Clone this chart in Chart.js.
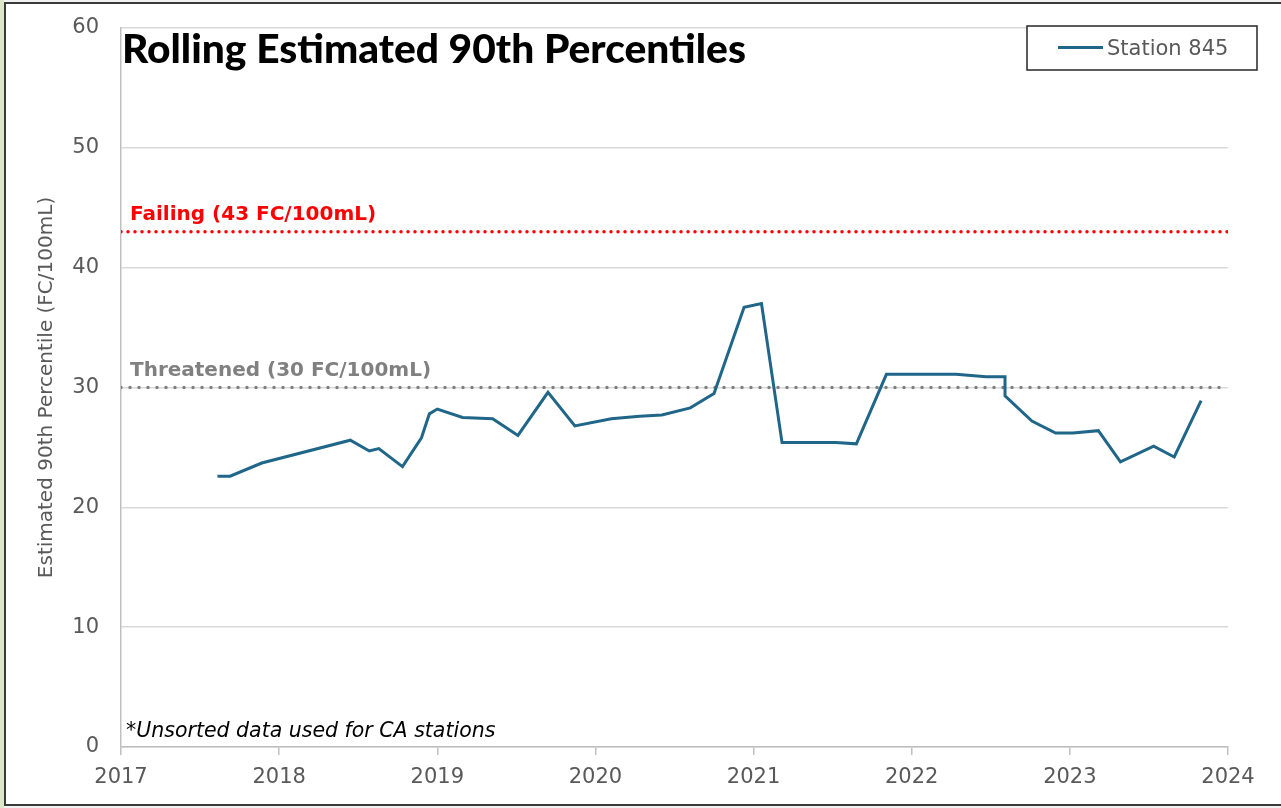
<!DOCTYPE html>
<html>
<head>
<meta charset="utf-8">
<script src="https://cdn.jsdelivr.net/npm/chart.js@4.4.1/dist/chart.umd.min.js"></script>
<style>
  body { margin: 0; background: #f2f2f2; overflow: hidden; }
  #strip { position: absolute; left: 0; top: 0; width: 4px; height: 808px; background: #dde7c8; }
  #box { position: absolute; left: 4px; top: 2px; width: 1290px; height: 800px; border: 2px solid #3a3a3a; background: #fff; }
  #myChart { position: absolute; left: 0; top: 0; }
</style>
</head>
<body>
<div id="strip"></div>
<div id="box"></div>
<canvas id="myChart" width="1281" height="808"></canvas>
<script>
// rolling estimated 90th percentile, station 845 (decimal years)
const years = [2017.61, 2017.69, 2017.89, 2018.45, 2018.57, 2018.63, 2018.78, 2018.90, 2018.95, 2019.00,
  2019.16, 2019.35, 2019.51, 2019.70, 2019.87, 2020.10, 2020.28, 2020.42, 2020.60, 2020.75,
  2020.94, 2021.05, 2021.18, 2021.52, 2021.65, 2021.84, 2022.28, 2022.47, 2022.59, 2022.59,
  2022.76, 2022.91, 2023.02, 2023.18, 2023.32, 2023.53, 2023.66, 2023.83];
const station845 = [22.6, 22.6, 23.7, 25.6, 24.7, 24.9, 23.4, 25.8, 27.8, 28.2,
  27.5, 27.4, 26.0, 29.6, 26.8, 27.4, 27.6, 27.7, 28.3, 29.5,
  36.7, 37.0, 25.4, 25.4, 25.3, 31.1, 31.1, 30.9, 30.9, 29.3,
  27.2, 26.2, 26.2, 26.4, 23.8, 25.1, 24.2, 28.9];

const yearTicks = [2017, 2018, 2019, 2020, 2021, 2022, 2023, 2024];
const valueTicks = [0, 10, 20, 30, 40, 50, 60];
const failingLevel = 43;
const threatenedLevel = 30;

const font = "DejaVu Sans";
const gray = "#595959";

function levelLine(level) {
  return [
    { x: yearTicks[0], y: level },
    { x: yearTicks[yearTicks.length - 1], y: level },
  ];
}

const decor = {
  id: "decor",
  afterDatasetsDraw(chart) {
    const ctx = chart.ctx;
    const area = chart.chartArea;
    const y = chart.scales.y;
    ctx.save();
    ctx.textBaseline = "alphabetic";
    ctx.textAlign = "left";

    ctx.fillStyle = "#000";
    ctx.font = "900 40.7px Lato";
    ctx.fillText("Rolling Estimated 90th Percentiles", 122, 63);

    ctx.fillStyle = "#ff0000";
    ctx.font = "bold 20px " + font;
    ctx.fillText("Failing (43 FC/100mL)", area.left + 9, y.getPixelForValue(failingLevel) - 12);

    ctx.fillStyle = "#808080";
    ctx.fillText("Threatened (30 FC/100mL)", area.left + 9, y.getPixelForValue(threatenedLevel) - 12);

    ctx.fillStyle = "#000";
    ctx.font = "oblique 20.5px " + font;
    ctx.fillText("*Unsorted data used for CA stations", 126, 737);

    // legend box
    ctx.fillStyle = "#fff";
    ctx.fillRect(1027, 26, 230, 44);
    ctx.strokeStyle = "#262626";
    ctx.lineWidth = 1.5;
    ctx.strokeRect(1027, 26, 230, 44);
    ctx.strokeStyle = chart.data.datasets[0].borderColor;
    ctx.lineWidth = 3;
    ctx.beginPath();
    ctx.moveTo(1058, 47.5);
    ctx.lineTo(1103, 47.5);
    ctx.stroke();
    ctx.fillStyle = gray;
    ctx.font = "21px " + font;
    ctx.fillText(chart.data.datasets[0].label, 1107, 55);
    ctx.restore();
  },
};

const ctx = document.getElementById("myChart").getContext("2d");
const weatherChart = new Chart(ctx, {
  type: "line",
  data: {
    datasets: [
      {
        label: "Station 845",
        data: years.map((yr, i) => ({ x: yr, y: station845[i] })),
        borderColor: "#1f6689",
        borderWidth: 3,
        pointRadius: 0,
        tension: 0,
      },
      {
        label: "Failing",
        data: levelLine(failingLevel),
        borderColor: "#ff0000",
        borderWidth: 3.5,
        borderDash: [0, 7],
        borderCapStyle: "round",
        pointRadius: 0,
      },
      {
        label: "Threatened",
        data: levelLine(threatenedLevel),
        borderColor: "#808080",
        borderWidth: 3.5,
        borderDash: [0, 9],
        borderCapStyle: "round",
        pointRadius: 0,
      },
    ],
  },
  options: {
    responsive: false,
    animation: false,
    layout: { padding: { left: 35, top: 28, right: 53, bottom: 0 } },
    plugins: { legend: { display: false }, tooltip: { enabled: false } },
    scales: {
      x: {
        type: "linear",
        min: yearTicks[0],
        max: yearTicks[yearTicks.length - 1],
        afterBuildTicks: (s) => { s.ticks = yearTicks.map((v) => ({ value: v })); },
        ticks: {
          callback: (v) => String(v),
          color: gray,
          font: { family: font, size: 21 },
          padding: 10,
          maxRotation: 0,
        },
        grid: { drawOnChartArea: false, tickLength: 8, color: "#bfbfbf", lineWidth: 1.5 },
        border: { color: "#bfbfbf", width: 1.5 },
        afterFit: (s) => { s.height = 61; s.paddingLeft = 0; s.paddingRight = 0; },
      },
      y: {
        min: valueTicks[0],
        max: valueTicks[valueTicks.length - 1],
        afterBuildTicks: (s) => { s.ticks = valueTicks.map((v) => ({ value: v })); },
        ticks: { color: gray, font: { family: font, size: 21 }, padding: 22 },
        grid: { color: "#d9d9d9", lineWidth: 1.5, drawTicks: false },
        border: { color: "#bfbfbf", width: 1.5 },
        title: {
          display: true,
          text: "Estimated 90th Percentile (FC/100mL)",
          color: gray,
          font: { family: font, size: 20 },
          padding: 0,
        },
        afterFit: (s) => { s.width = 86; s.paddingTop = 0; s.paddingBottom = 0; },
      },
    },
  },
  plugins: [decor],
});
</script>
</body>
</html>
